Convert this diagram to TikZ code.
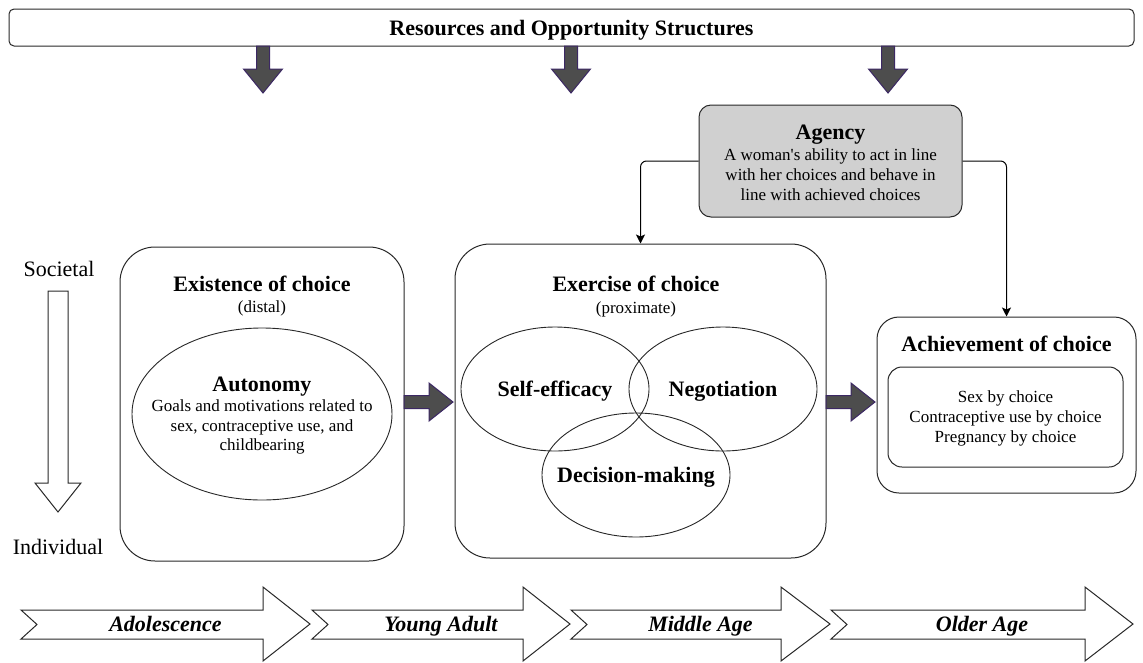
\documentclass[tikz,border=0pt]{standalone}
\usepackage{fontspec}
\setmainfont{Liberation Serif}
\usetikzlibrary{shapes.geometric,arrows.meta}
\definecolor{fatfill}{RGB}{77,77,77}
\definecolor{fatedge}{RGB}{60,40,100}
\definecolor{agencyfill}{RGB}{208,208,208}
\definecolor{edge}{RGB}{40,40,40}
\newcommand\tfs{\fontsize{22}{25}\selectfont}
\newcommand\bfs{\fontsize{17}{20}\selectfont}
\begin{document}
\begin{tikzpicture}[x=1pt,y=-1pt,
  box/.style={draw=edge, line width=1pt, inner sep=0pt},
  oval/.style={draw=edge, line width=0.9pt, ellipse, minimum width=188pt, minimum height=124pt, inner sep=0pt},
  ttl/.style={font=\tfs\bfseries, anchor=base, inner sep=0pt},
  agetxt/.style={font=\tfs\bfseries\itshape, anchor=base, inner sep=0pt},
  txt/.style={font=\bfs, anchor=base, inner sep=0pt},
  side/.style={font=\tfs, anchor=base, inner sep=0pt},
  fat/.style={draw=fatedge, fill=fatfill, line width=1pt, line join=miter},
  hollow/.style={draw=edge, fill=white, line width=1pt, line join=miter},
  conn/.style={draw=black, line width=1pt, rounded corners=6pt, -{Stealth[length=9pt,width=9pt,inset=2pt]}},
  fatdown/.pic={\path[fat] (-6.5,0) -- (-6.5,23) -- (-19.5,23) -- (0,47) -- (19.5,23) -- (6.5,23) -- (6.5,0) -- cycle;},
  fatright/.pic={\path[fat] (0,-6.5) -- (25,-6.5) -- (25,-19) -- (49,0) -- (25,19) -- (25,6.5) -- (0,6.5) -- cycle;}
]
\path[use as bounding box, fill=white] (0,0) rectangle (1143,662);

% top bar
\node[box, rounded corners=5pt, minimum width=1125pt, minimum height=37pt] (res) at (571.5,27.5) {};
\node[ttl] (restxt) at (571.5,35) {Resources and Opportunity Structures};

% down arrows
\path (263,46) pic {fatdown};
\path (571,46) pic {fatdown};
\path (888,46) pic {fatdown};

% agency
\node[box, fill=agencyfill, rounded corners=12pt, minimum width=263pt, minimum height=112pt] (agency) at (830.5,161) {};
\node[ttl] (agt) at (830.5,139) {Agency};
\node[txt] (ag1) at (830.5,160.6) {A woman\textquotesingle s ability to act in line};
\node[txt] (ag2) at (830.5,180.6) {with her choices and behave in};
\node[txt] (ag3) at (830.5,200.6) {line with achieved choices};

% existence of choice
\node[box, rounded corners=35pt, minimum width=284pt, minimum height=314pt] (exist) at (262,404) {};
\node[ttl] (ext) at (262,291) {Existence of choice};
\node[txt] (exd) at (262,312.6) {(distal)};
\node[oval, minimum width=260pt, minimum height=172pt] (auto) at (262,414) {};
\node[ttl] (autt) at (262,391) {Autonomy};
\node[txt] (au1) at (262,411.6) {Goals and motivations related to};
\node[txt] (au2) at (262,431.6) {sex, contraceptive use, and};
\node[txt] (au3) at (262,450.6) {childbearing};

% exercise of choice
\node[box, rounded corners=35pt, minimum width=371pt, minimum height=314pt] (exer) at (640.5,401) {};
\node[ttl] (ert) at (636,291) {Exercise of choice};
\node[txt] (erp) at (636,313.6) {(proximate)};
\node[oval] (se) at (555,389) {};
\node[oval] (neg) at (723,389) {};
\node[oval] (dm) at (636,475) {};
\node[ttl] (set) at (555,396) {Self-efficacy};
\node[ttl] (negt) at (723,396) {Negotiation};
\node[ttl] (dmt) at (636,482) {Decision-making};

% achievement of choice
\node[box, rounded corners=22pt, minimum width=259pt, minimum height=176pt] (achv) at (1006.5,405) {};
\node[ttl] (acht) at (1006.5,351) {Achievement of choice};
\node[box, rounded corners=14pt, minimum width=235pt, minimum height=100pt] (inner) at (1005.5,417) {};
\node[txt] (ac1) at (1005.5,402.6) {Sex by choice};
\node[txt] (ac2) at (1005.5,422.6) {Contraceptive use by choice};
\node[txt] (ac3) at (1005.5,442.6) {Pregnancy by choice};

% fat right arrows
\path (404,402) pic {fatright};
\path (826,402) pic {fatright};

% agency connectors
\draw[conn] (agency.west) -| (exer.north);
\draw[conn] (agency.east) -| (achv.north);

% societal / individual
\node[side] (soc) at (59,276) {Societal};
\node[side] (ind) at (58,554) {Individual};
\draw[hollow] (48,291) -- (68,291) -- (68,483) -- (81,483) -- (58,512) -- (35,483) -- (48,483) -- cycle;

% life stages
\foreach \L/\H/\T/\lab [count=\i] in {21/263/310/Adolescence,312/523/570/Young Adult,571/781/830/Middle Age,831/1085/1133/Older Age}{
  \draw[hollow] (\L,610) -- (\H,610) -- (\H,587) -- (\T,624) -- (\H,661) -- (\H,639) -- (\L,639) -- ({\L+16},624.5) -- cycle;
  \node[agetxt] (age\i) at ({(\L+\T)/2},631) {\lab};
}
\end{tikzpicture}
\end{document}
